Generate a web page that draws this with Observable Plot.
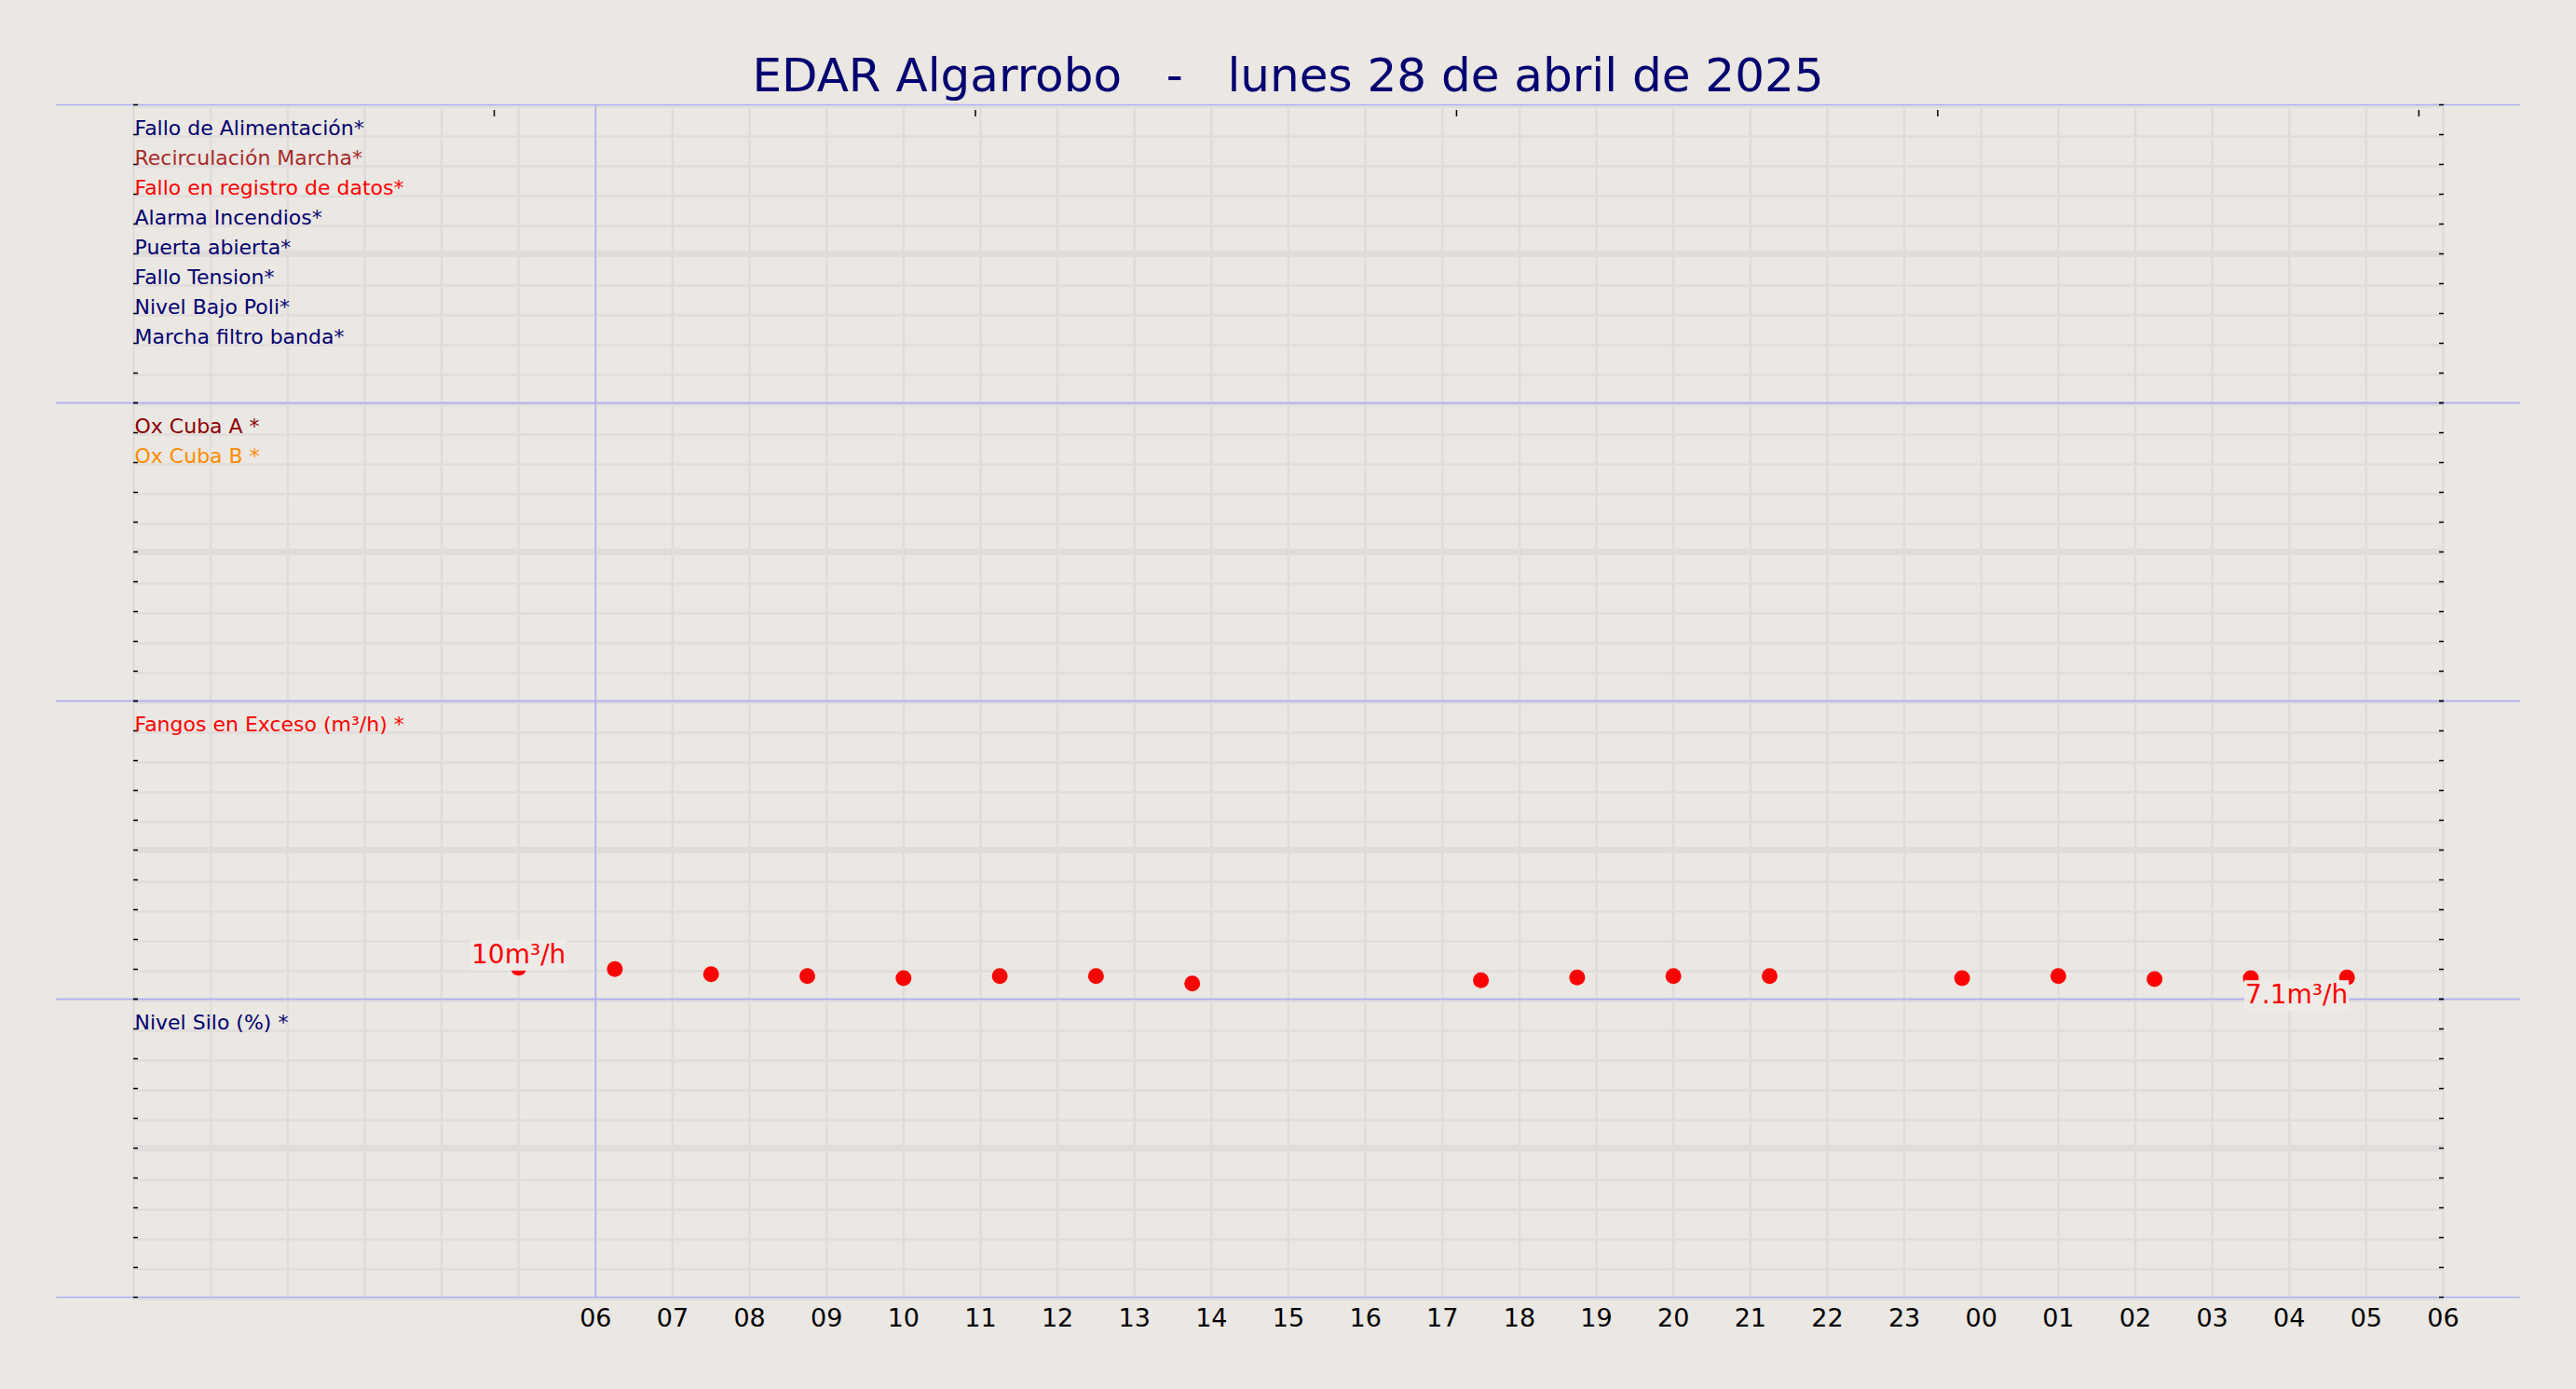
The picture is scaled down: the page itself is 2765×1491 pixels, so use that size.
<!DOCTYPE html>
<html>
<head>
<meta charset="utf-8">
<script src="https://cdn.jsdelivr.net/npm/d3@7"></script>
<script src="https://cdn.jsdelivr.net/npm/@observablehq/plot@0.6"></script>
<style>
html, body { margin: 0; padding: 0; background: #ebe7e2; }
#title { position: relative; z-index: 1; height: 100px; width: 2765px; }
#title span { position: absolute; left: 0; right: 0; top: 56px; text-align: center; white-space: pre;
  font-family: "DejaVu Sans"; font-size: 50px; line-height: 50px; color: #000070; }
#chart { position: relative; z-index: 0; }
</style>
</head>
<body>
<div id="title"><span>EDAR Algarrobo   -   lunes 28 de abril de 2025</span></div>
<div id="chart"></div>
<script>
// ---- data ----
const panels = ["alarmas", "oxigeno", "fangos", "silo"];

const alarmLabels = ["Fallo de Alimentación*", "Recirculación Marcha*", "Fallo en registro de datos*",
  "Alarma Incendios*", "Puerta abierta*", "Fallo Tension*", "Nivel Bajo Poli*", "Marcha filtro banda*"];
const alarmColors = ["#000070", "#a52a2a", "#ff0000", "#000070", "#000070", "#000070", "#000070", "#000070"];

const oxLabels = ["Ox Cuba A *", "Ox Cuba B *"];
const oxColors = ["#8b0000", "#ff8c00"];

const fangosLabels = ["Fangos en Exceso (m³/h) *"];
const fangosColors = ["#ff0000"];

const siloLabels = ["Nivel Silo (%) *"];
const siloColors = ["#000070"];

const fangosTimes = [
  "2025-04-28T05:00Z", "2025-04-28T06:15Z", "2025-04-28T07:30Z", "2025-04-28T08:45Z",
  "2025-04-28T10:00Z", "2025-04-28T11:15Z", "2025-04-28T12:30Z", "2025-04-28T13:45Z",
  "2025-04-28T17:30Z", "2025-04-28T18:45Z", "2025-04-28T20:00Z", "2025-04-28T21:15Z",
  "2025-04-28T23:45Z", "2025-04-29T01:00Z", "2025-04-29T02:15Z", "2025-04-29T03:30Z",
  "2025-04-29T04:45Z"
];
const fangosValues = [10.3, 9.9, 8.2, 7.6, 6.9, 7.6, 7.6, 5.1, 6.2, 7.1, 7.6, 7.6, 6.9, 7.6, 6.6, 6.9, 7.1];
const fangosUnit = "m³/h";

const xTickLabels = ["06","07","08","09","10","11","12","13","14","15","16","17","18","19","20","21","22","23","00","01","02","03","04","05","06"];
const topTickTimes = ["2025-04-28T04:41Z", "2025-04-28T10:56Z", "2025-04-28T17:11Z", "2025-04-28T23:26Z", "2025-04-29T05:41Z"];

const xStart = new Date("2025-04-28T00:00Z");
const xEnd = new Date("2025-04-29T06:00Z");
const dayStart = new Date("2025-04-28T06:00Z");
const sepStart = new Date("2025-04-27T23:00Z");
const sepEnd = new Date("2025-04-29T07:00Z");
const yMax = 98;
const rowsPerPanel = 10;

// ---- derived tables ----
const rowLabels = [
  ...alarmLabels.map((t, i) => ({panel: "alarmas", row: i + 1, text: t, color: alarmColors[i]})),
  ...oxLabels.map((t, i) => ({panel: "oxigeno", row: i + 1, text: t, color: oxColors[i]})),
  ...fangosLabels.map((t, i) => ({panel: "fangos", row: i + 1, text: t, color: fangosColors[i]})),
  ...siloLabels.map((t, i) => ({panel: "silo", row: i + 1, text: t, color: siloColors[i]}))
];
const fangos = fangosTimes.map((t, i) => ({panel: "fangos", t: new Date(t), v: fangosValues[i]}));
const hourGrid = d3.utcHour.range(xStart, new Date(+xEnd + 1));
const xTicks = d3.utcHour.range(dayStart, new Date(+xEnd + 1));
const xTickMap = new Map(xTicks.map((d, i) => [+d, xTickLabels[i]]));
const topTicks = topTickTimes.map(d => new Date(d));
const rowGrid = d3.range(0, rowsPerPanel + 1).map(i => i * yMax / rowsPerPanel);
const fmt = d3.format(".2~r");

const gridColor = "#e0dcda";
const blue = "#aeaef5";
const boxColor = "#eeeae6";

const chart = Plot.plot({
  width: 2765,
  height: 1391,
  marginTop: 11,
  marginBottom: 98,
  marginLeft: 143,
  marginRight: 143,
  style: {background: "transparent", fontFamily: "DejaVu Sans", color: "black", overflow: "visible"},
  x: {type: "utc", domain: [xStart, xEnd], axis: null},
  y: {domain: [0, yMax], axis: null},
  fy: {domain: panels, padding: 0, axis: null},
  color: {type: "identity"},
  marks: [
    Plot.ruleX(hourGrid, {stroke: gridColor, strokeWidth: 2.6}),
    Plot.ruleY(rowGrid, {stroke: gridColor, strokeWidth: 2.6, dy: 2}),
    Plot.ruleY([yMax / 2], {stroke: gridColor, strokeWidth: 7}),
    Plot.ruleX([dayStart], {stroke: blue, strokeWidth: 1.5}),
    Plot.ruleY([0, yMax], {x1: () => sepStart, x2: () => sepEnd, stroke: blue, strokeWidth: 1.5}),
    Plot.axisY({anchor: "left", ticks: rowGrid, tickSize: -5, tickFormat: () => "", label: null, strokeWidth: 1.5}),
    Plot.axisY({anchor: "right", ticks: rowGrid, tickSize: -5, tickFormat: () => "", label: null, strokeWidth: 1.5}),
    Plot.axisX({anchor: "top", ticks: topTicks, tickSize: -7, tickFormat: () => "", label: null, dy: 5, strokeWidth: 1.5}),
    Plot.axisX({anchor: "bottom", ticks: xTicks, tickSize: 0, tickPadding: 12,
      tickFormat: d => xTickMap.get(+d), fontSize: 27, label: null, fill: "black"}),
    Plot.text(rowLabels, {
      x: () => xStart, y: d => yMax - d.row * yMax / rowsPerPanel, fy: "panel",
      text: "text", fill: "color", textAnchor: "start", lineAnchor: "bottom", fontSize: 22, dx: 1
    }),
    Plot.dot(fangos, {x: "t", y: "v", fy: "panel", r: 8.5, fill: "#ff0000"}),
    Plot.text([fangos[0]], {
      x: "t", y: "v", fy: "panel", text: d => fmt(d.v) + fangosUnit,
      textAnchor: "middle", lineAnchor: "bottom", dy: -5, fontSize: 28, fill: "#ff0000"
    }),
    Plot.text([fangos[fangos.length - 1]], {
      x: "t", y: "v", fy: "panel", text: d => fmt(d.v) + fangosUnit,
      textAnchor: "end", lineAnchor: "top", dy: 8, dx: 1, fontSize: 28, fill: "#ff0000"
    })
  ]
});
document.getElementById("chart").appendChild(chart);

// background boxes behind the value labels
Array.from(chart.querySelectorAll("text"))
  .filter(t => t.textContent.trim().endsWith(fangosUnit))
  .forEach(t => {
    try {
      const b = t.getBBox();
      const r = document.createElementNS("http://www.w3.org/2000/svg", "rect");
      r.setAttribute("x", b.x - 1);
      r.setAttribute("y", b.y + 1);
      r.setAttribute("width", b.width + 2);
      r.setAttribute("height", b.height);
      r.setAttribute("fill", boxColor);
      r.setAttribute("stroke", "none");
      const tr = t.getAttribute("transform");
      if (tr) r.setAttribute("transform", tr);
      t.parentNode.insertBefore(r, t);
    } catch (e) {}
  });
</script>
</body>
</html>
